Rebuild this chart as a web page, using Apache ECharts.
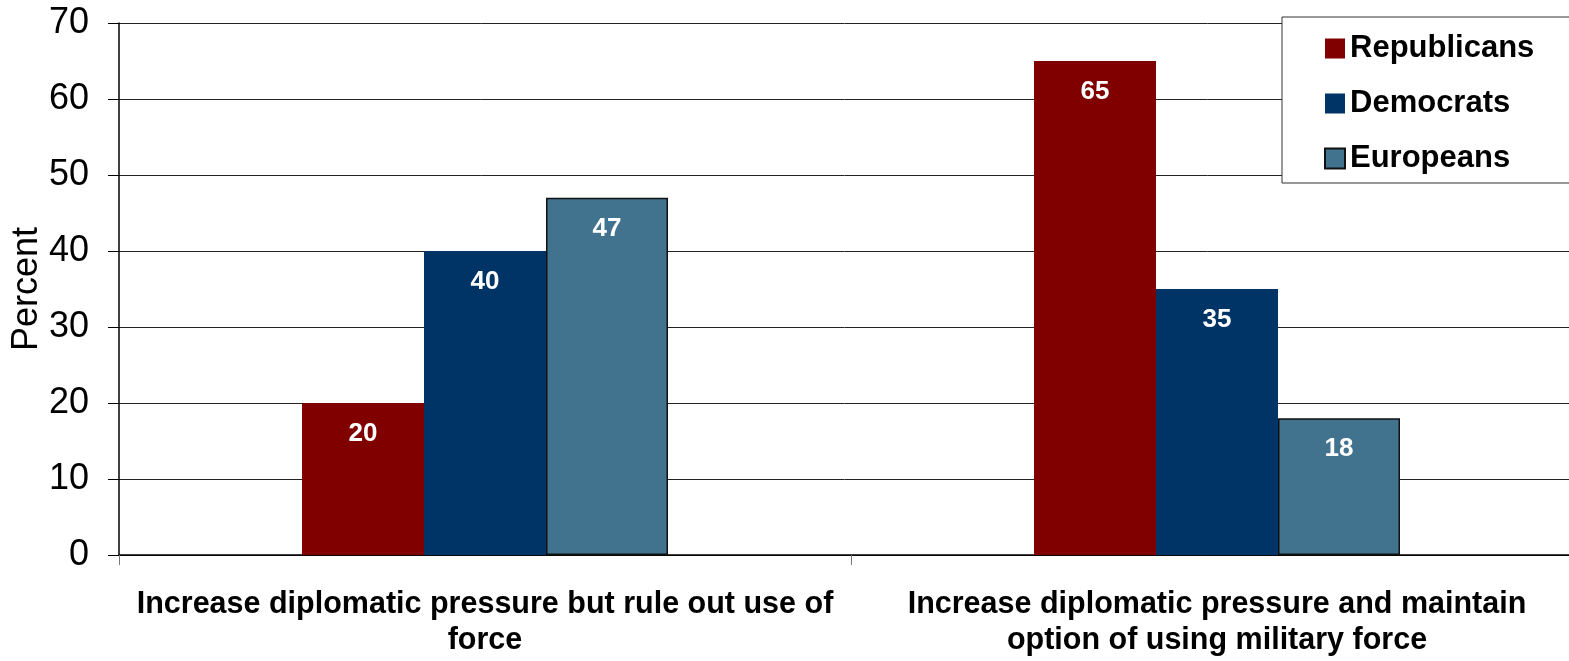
<!DOCTYPE html>
<html>
<head>
<meta charset="utf-8">
<script src="https://cdn.jsdelivr.net/npm/echarts@6/dist/echarts.min.js"></script>
<style>
  html, body { margin: 0; padding: 0; background: #fff; }
  #chart { width: 1569px; height: 661px; }
</style>
</head>
<body>
<div id="chart"></div>
<script>
// categories and values
var categories = [
    'Increase diplomatic pressure but rule out use of\nforce',
    'Increase diplomatic pressure and maintain\noption of using military force'
];
var republicans = [20, 65];
var democrats = [40, 35];
var europeans = [47, 18];
var yTicks = { min: 0, max: 70, interval: 10 };

var FONT = '"Liberation Sans", Arial, sans-serif';

var labelStyle = {
    show: true,
    position: 'insideTop',
    distance: 18,
    color: '#fff',
    fontWeight: 'bold',
    fontSize: 26,
    fontFamily: FONT
};

var chart = echarts.init(document.getElementById('chart'));

var option = {
    animation: false,
    grid: {
        left: 119,
        top: 23,
        width: 1464,
        height: 532,
        outerBoundsMode: 'none'
    },
    legend: {
        orient: 'vertical',
        left: 1282,
        top: 17,
        padding: [16, 120, 9, 42],
        itemGap: 24,
        itemWidth: 20,
        itemHeight: 20,
        icon: 'rect',
        borderColor: '#333',
        borderWidth: 1,
        backgroundColor: '#fff',
        textStyle: {
            fontFamily: FONT,
            fontSize: 31,
            fontWeight: 'bold',
            color: '#000'
        },
        data: ['Republicans', 'Democrats', 'Europeans']
    },
    xAxis: {
        type: 'category',
        data: categories,
        axisLine: { lineStyle: { color: '#000', width: 1.5 } },
        axisTick: { show: true, interval: 0, length: 10, lineStyle: { color: '#777' } },
        axisLabel: {
            interval: 0,
            hideOverlap: false,
            margin: 32,
            fontFamily: FONT,
            fontSize: 30.5,
            fontWeight: 'bold',
            color: '#000',
            lineHeight: 36
        }
    },
    yAxis: {
        type: 'value',
        min: yTicks.min,
        max: yTicks.max,
        interval: yTicks.interval,
        name: 'Percent',
        nameLocation: 'middle',
        nameGap: 74,
        nameRotate: 90,
        nameMoveOverlap: false,
        nameTextStyle: {
            fontFamily: FONT,
            fontSize: 36,
            color: '#000'
        },
        axisLine: { show: true, lineStyle: { color: '#000', width: 1.5 } },
        axisTick: { show: true, length: 11, lineStyle: { color: '#000' } },
        axisLabel: {
            margin: 30,
            fontFamily: FONT,
            fontSize: 36,
            color: '#000'
        },
        splitLine: { lineStyle: { color: '#222', width: 1 } }
    },
    series: [
        {
            name: 'Republicans',
            type: 'bar',
            data: republicans,
            barGap: '0%',
            barCategoryGap: '50%',
            itemStyle: { color: '#800000' },
            label: labelStyle
        },
        {
            name: 'Democrats',
            type: 'bar',
            data: democrats,
            itemStyle: { color: '#003366' },
            label: labelStyle
        },
        {
            name: 'Europeans',
            type: 'bar',
            data: europeans,
            itemStyle: { color: '#41738F', borderColor: '#111', borderWidth: 1.5 },
            label: labelStyle
        }
    ]
};

chart.setOption(option);
</script>
</body>
</html>
